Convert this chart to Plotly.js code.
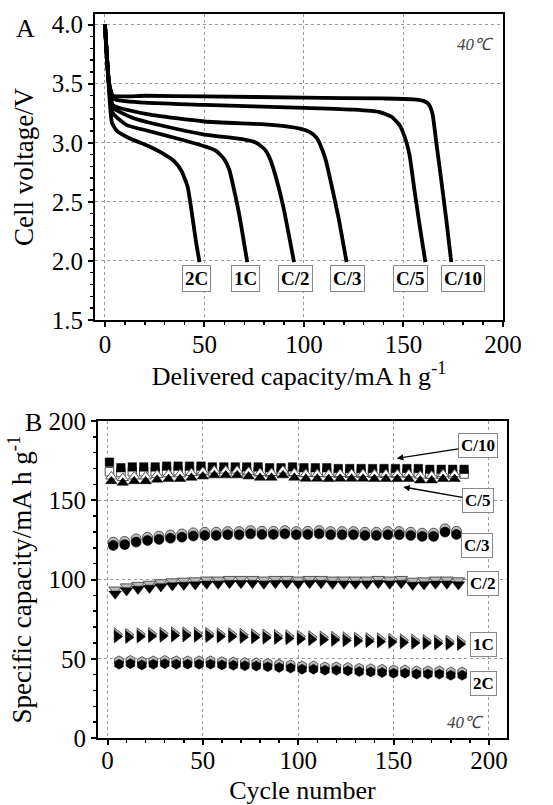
<!DOCTYPE html>
<html>
<head>
<meta charset="utf-8">
<script src="https://cdn.plot.ly/plotly-3.0.1.min.js"></script>
<style>html,body{margin:0;padding:0;background:#fff;}#chart{width:553px;height:805px;}</style>
</head>
<body>
<div id="chart"></div>
<script>
// ---------- Panel A: discharge curves ----------
const rateLabels = ["2C", "1C", "C/2", "C/3", "C/5", "C/10"];

const capC10 = [0, 2, 4, 20, 50, 100, 140, 155, 160, 162.5, 164.5, 166.5, 169, 171.5, 174];
const vC10   = [4.0, 3.52, 3.40, 3.398, 3.393, 3.382, 3.375, 3.368, 3.355, 3.33, 3.25, 3.0, 2.68, 2.35, 1.99];
const capC5  = [0, 2, 4.5, 20, 50, 100, 125, 138, 144, 148, 151, 153, 155.5, 158.3, 161];
const vC5    = [4.0, 3.5, 3.37, 3.34, 3.32, 3.295, 3.28, 3.26, 3.22, 3.15, 3.03, 2.9, 2.6, 2.28, 1.99];
const capC3  = [0, 2, 4, 22, 50, 85, 98, 103, 106.5, 109, 111, 114, 117.3, 121.4];
const vC3    = [4.0, 3.5, 3.32, 3.24, 3.18, 3.15, 3.12, 3.09, 3.04, 2.95, 2.85, 2.63, 2.37, 1.99];
const capC2  = [0, 2, 4, 14, 30, 50, 69, 76, 80.5, 83, 85.7, 89.6, 95];
const vC2    = [4.0, 3.5, 3.30, 3.21, 3.14, 3.07, 3.03, 3.0, 2.94, 2.86, 2.72, 2.46, 1.99];
const cap1C  = [0, 2, 4, 11, 22, 37.7, 50, 56, 60, 62.5, 64.5, 67.6, 71.5];
const v1C    = [4.0, 3.5, 3.25, 3.15, 3.10, 3.03, 2.97, 2.93, 2.86, 2.77, 2.63, 2.38, 1.99];
const cap2C  = [0, 2, 3.5, 6, 12, 22, 30, 35, 38.5, 41.5, 43.2, 45.6, 47.5];
const v2C    = [4.0, 3.45, 3.17, 3.1, 3.04, 2.97, 2.9, 2.84, 2.76, 2.63, 2.46, 2.18, 1.99];

const labelCapA = [46.2, 70.4, 95.5, 122.1, 153.3, 179.9];
const labelVA = 1.85;

// ---------- Panel B: cycling ----------
const cycC10 = [1, 7, 13, 19, 25, 31, 37, 43, 49, 55, 61, 67, 73, 79, 85, 91, 97, 103, 109, 115, 121, 127, 133, 139, 145, 151, 157, 163, 169, 175, 181, 187];
const dchC10 = [174, 170.5, 171, 171, 171, 171.5, 171.5, 171.5, 171.5, 171, 171, 171, 171, 171, 170.5, 170.5, 171, 170.5, 170.5, 170.5, 170, 170, 170, 170, 170, 170, 170, 170, 169.5, 169.5, 169.5, 169.5];
const chgC10 = [168, 167.5, 168, 168, 168, 168.5, 168.5, 168.5, 168.5, 168, 168, 168, 168, 168, 167.5, 167.5, 168, 167.5, 167.5, 167.5, 167, 167, 167, 167, 167, 167, 167, 167, 166.5, 166.5, 166.5, 166.5];

const cycC5 = [2, 8, 14, 20, 26, 32, 38, 44, 50, 56, 62, 68, 74, 80, 86, 92, 98, 104, 110, 116, 122, 128, 134, 140, 146, 152, 158, 164, 170, 176, 182];
const dchC5 = [162, 161, 162, 162, 163, 163.4, 163.4, 164.2, 165, 165.7, 165.7, 165.7, 165, 164.2, 164.2, 165.7, 164.2, 163.6, 163.6, 163.4, 163.6, 163.6, 163.6, 163.4, 163.4, 163.4, 163.4, 162.5, 162.5, 163.4, 163.4];
const chgC5 = [165, 164, 165, 165, 166, 166.4, 166.4, 167.2, 168, 168.7, 168.7, 168.7, 168, 167.2, 167.2, 168.7, 167.2, 166.6, 166.6, 166.4, 166.6, 166.6, 166.6, 166.4, 166.4, 166.4, 166.4, 165.5, 165.5, 166.4, 166.4];

const cycC3 = [3, 9, 15, 21, 27, 33, 39, 45, 51, 57, 63, 69, 75, 81, 87, 93, 99, 105, 111, 117, 123, 129, 135, 141, 147, 153, 159, 165, 171, 177, 183];
const dchC3 = [121.5, 122, 123.6, 124.6, 125.3, 126, 126.7, 127.4, 127.8, 127.8, 128.2, 128.2, 128.8, 128.4, 128.4, 128.8, 128.2, 128.4, 128.8, 128.2, 128.2, 128.2, 127.8, 127.8, 128.2, 128.2, 127.8, 127.2, 127.2, 129.9, 128.4];
const chgC3 = [123.5, 124, 125.6, 126.6, 127.3, 128, 128.7, 129.4, 129.8, 129.8, 130.2, 130.2, 130.8, 130.4, 130.4, 130.8, 130.2, 130.4, 130.8, 130.2, 130.2, 130.2, 129.8, 129.8, 130.2, 130.2, 129.8, 129.2, 129.2, 131.9, 130.4];

const cycC2 = [4, 10, 16, 22, 28, 34, 40, 46, 52, 58, 64, 70, 76, 82, 88, 94, 100, 106, 112, 118, 124, 130, 136, 142, 148, 154, 160, 166, 172, 178, 184];
const dchC2 = [91, 93, 94, 94.7, 95.6, 96.2, 96.6, 96.8, 97.3, 97.3, 97.7, 97.7, 97.7, 97.3, 97.7, 97.7, 97.3, 97.7, 97.7, 97.3, 97.3, 97.3, 97.3, 97.7, 97.3, 97.7, 96.6, 96.8, 97.3, 97.3, 96.8];
const chgC2 = [93.5, 95.5, 96.5, 97.2, 98.1, 98.7, 99.1, 99.3, 99.8, 99.8, 100.2, 100.2, 100.2, 99.8, 100.2, 100.2, 99.8, 100.2, 100.2, 99.8, 99.8, 99.8, 99.8, 100.2, 99.8, 100.2, 99.1, 99.3, 99.8, 99.8, 99.3];

const cyc1C = [5, 11, 17, 23, 29, 35, 41, 47, 53, 59, 65, 71, 77, 83, 89, 95, 101, 107, 113, 119, 125, 131, 137, 143, 149, 155, 161, 167, 173, 179, 185];
const dch1C = [64, 63.6, 64, 64.2, 64.4, 64.6, 64.6, 64.4, 64.2, 64, 64, 63.6, 63.4, 63.2, 63, 62.8, 62.5, 62.2, 62, 61.8, 61.5, 61.2, 61, 60.8, 60.5, 60.2, 60, 59.8, 59.6, 59.4, 59.2];
const chg1C = [65.5, 65.1, 65.5, 65.7, 65.9, 66.1, 66.1, 65.9, 65.7, 65.5, 65.5, 65.1, 64.9, 64.7, 64.5, 64.3, 64, 63.7, 63.5, 63.3, 63, 62.7, 62.5, 62.3, 62, 61.7, 61.5, 61.3, 61.1, 60.9, 60.7];

const cyc2C = [6, 12, 18, 24, 30, 36, 42, 48, 54, 60, 66, 72, 78, 84, 90, 96, 102, 108, 114, 120, 126, 132, 138, 144, 150, 156, 162, 168, 174, 180, 186];
const dch2C = [46.6, 46.9, 46.1, 46.6, 46.9, 46.6, 46.6, 46.6, 46.6, 46.1, 45.9, 45.6, 45.4, 45.0, 44.5, 44.1, 43.4, 43.4, 42.8, 42.8, 42.4, 41.9, 41.7, 41.3, 40.9, 40.9, 40.3, 40.3, 40.3, 39.6, 39.6];
const chg2C = [48.6, 48.9, 48.1, 48.6, 48.9, 48.6, 48.6, 48.6, 48.6, 48.1, 47.9, 47.6, 47.4, 47.0, 46.5, 46.1, 45.4, 45.4, 44.8, 44.8, 44.4, 43.9, 43.7, 43.3, 42.9, 42.9, 42.3, 42.3, 42.3, 41.6, 41.6];

const labelCycB = [197, 197, 196.7, 193.6, 194.2, 194.2];
const labelCapB = [34.4, 59.3, 97.3, 121.5, 150, 184.4];
const arrowTipC10 = [151.7, 176.4];
const arrowTipC5 = [155.1, 158.4];

// ---------- traces ----------
const SERIF = "Liberation Serif, Times New Roman, serif";
const traces = [];
const curvesA = [[cap2C, v2C], [cap1C, v1C], [capC2, vC2], [capC3, vC3], [capC5, vC5], [capC10, vC10]];
curvesA.forEach(c => traces.push({
  x: c[0], y: c[1], type: "scatter", mode: "lines", xaxis: "x", yaxis: "y",
  line: {color: "#000", width: 3.8, shape: "spline", smoothing: 0.5}, hoverinfo: "skip"
}));

const seriesB = [
  {c: cycC10, d: dchC10, g: chgC10, s: "square", z: 8.5},
  {c: cycC5, d: dchC5, g: chgC5, s: "triangle-up", z: 10},
  {c: cycC3, d: dchC3, g: chgC3, s: "circle", z: 10},
  {c: cycC2, d: dchC2, g: chgC2, s: "triangle-down", z: 11},
  {c: cyc1C, d: dch1C, g: chg1C, s: "triangle-right", z: 11},
  {c: cyc2C, d: dch2C, g: chg2C, s: "hexagon", z: 10}
];
seriesB.forEach((S, i) => {
  const openFill = (i < 2) ? "#fff" : "#bbb";
  traces.push({
    x: S.c, y: S.g, type: "scatter", mode: "markers", xaxis: "x2", yaxis: "y2",
    marker: {symbol: S.s, size: S.z, color: openFill, line: {color: "#555", width: 1}}, hoverinfo: "skip"
  });
  traces.push({
    x: S.c, y: S.d, type: "scatter", mode: "markers", xaxis: "x2", yaxis: "y2",
    marker: {symbol: S.s, size: S.z, color: "#000", line: {color: "#000", width: 0.5}}, hoverinfo: "skip"
  });
});

// ---------- annotations ----------
const boxStyle = {bordercolor: "#888", borderwidth: 1, borderpad: 2, bgcolor: "#fff"};
const annotations = [];
rateLabels.forEach((t, i) => annotations.push(Object.assign({
  x: labelCapA[i], y: labelVA, xref: "x", yref: "y", text: "<b>" + t + "</b>", showarrow: false,
  xanchor: "center", yanchor: "middle",
  font: {family: SERIF, size: 19, color: "#000"}
}, boxStyle)));

rateLabels.forEach((t, i) => {
  const a = Object.assign({
    xref: "x2", yref: "y2", text: "<b>" + t + "</b>",
    font: {family: SERIF, size: 17, color: "#000"}
  }, boxStyle);
  if (t === "C/10" || t === "C/5") {
    const tip = t === "C/10" ? arrowTipC10 : arrowTipC5;
    Object.assign(a, {x: tip[0], y: tip[1], ax: labelCycB[i], ay: labelCapB[i], axref: "x2", ayref: "y2",
      showarrow: true, arrowhead: 2, arrowsize: 1, arrowwidth: 1.3, arrowcolor: "#000"});
  } else {
    Object.assign(a, {x: labelCycB[i], y: labelCapB[i], showarrow: false, xanchor: "center", yanchor: "middle"});
  }
  annotations.push(a);
});

const paperText = (px, py, text, size, color) => ({
  x: px / 553, y: 1 - py / 805, xref: "paper", yref: "paper", text: text, showarrow: false,
  xanchor: "center", yanchor: "middle", font: {family: SERIF, size: size, color: color}
});
annotations.push(paperText(25, 28, "A", 26, "#000"));
annotations.push(paperText(33, 423, "B", 26, "#000"));
annotations.push(paperText(475, 45, "<i>40℃</i>", 17, "#444"));
annotations.push(paperText(465, 722, "<i>40℃</i>", 17, "#444"));

// ---------- axes ----------
function axisBase(extra) {
  return Object.assign({
    showline: true, linecolor: "#000", linewidth: 2, mirror: true,
    ticks: "outside", ticklen: 5, tickwidth: 2, tickcolor: "#000",
    showgrid: true, gridcolor: "#999", griddash: "dot", gridwidth: 1,
    zeroline: false, tickfont: {family: SERIF, size: 25, color: "#000"}
  }, extra);
}
const minorTicks = (d, t0) => ({dtick: d, tick0: t0, ticks: "outside", ticklen: 3, tickwidth: 1.5, tickcolor: "#000", showgrid: false});
const layout = {
  width: 553, height: 805, margin: {l: 0, r: 0, t: 0, b: 0},
  paper_bgcolor: "#fff", plot_bgcolor: "#fff", showlegend: false,
  xaxis: axisBase({domain: [95 / 553, 503 / 553], range: [-5, 200], anchor: "y", tick0: 0, dtick: 50,
    ticklabelstandoff: -4, minor: minorTicks(10, 0),
    title: {text: "Delivered capacity/mA h g<sup>-1</sup>", font: {family: SERIF, size: 26, color: "#000"}, standoff: 8}}),
  yaxis: axisBase({domain: [1 - 320 / 805, 1 - 14 / 805], range: [1.5, 4.09], anchor: "x", tick0: 1.5, dtick: 0.5, tickformat: ".1f",
    minor: minorTicks(0.1, 1.5),
    title: {text: "Cell voltage/V", font: {family: SERIF, size: 27, color: "#000"}, standoff: 10}}),
  xaxis2: axisBase({domain: [98 / 553, 507 / 553], range: [-5, 209.5], anchor: "y2", tick0: 0, dtick: 50,
    ticklabelstandoff: -6, minor: minorTicks(10, 0),
    title: {text: "Cycle number", font: {family: SERIF, size: 26, color: "#000"}, standoff: 18}}),
  yaxis2: axisBase({domain: [1 - 738 / 805, 1 - 421 / 805], range: [0, 200], anchor: "x2", tick0: 0, dtick: 50,
    minor: minorTicks(10, 0),
    title: {text: "Specific capacity/mA h g<sup>-1</sup>", font: {family: SERIF, size: 27, color: "#000"}, standoff: 9}}),
  annotations: annotations
};

Plotly.newPlot("chart", traces, layout, {staticPlot: true, displayModeBar: false});
</script>
</body>
</html>
